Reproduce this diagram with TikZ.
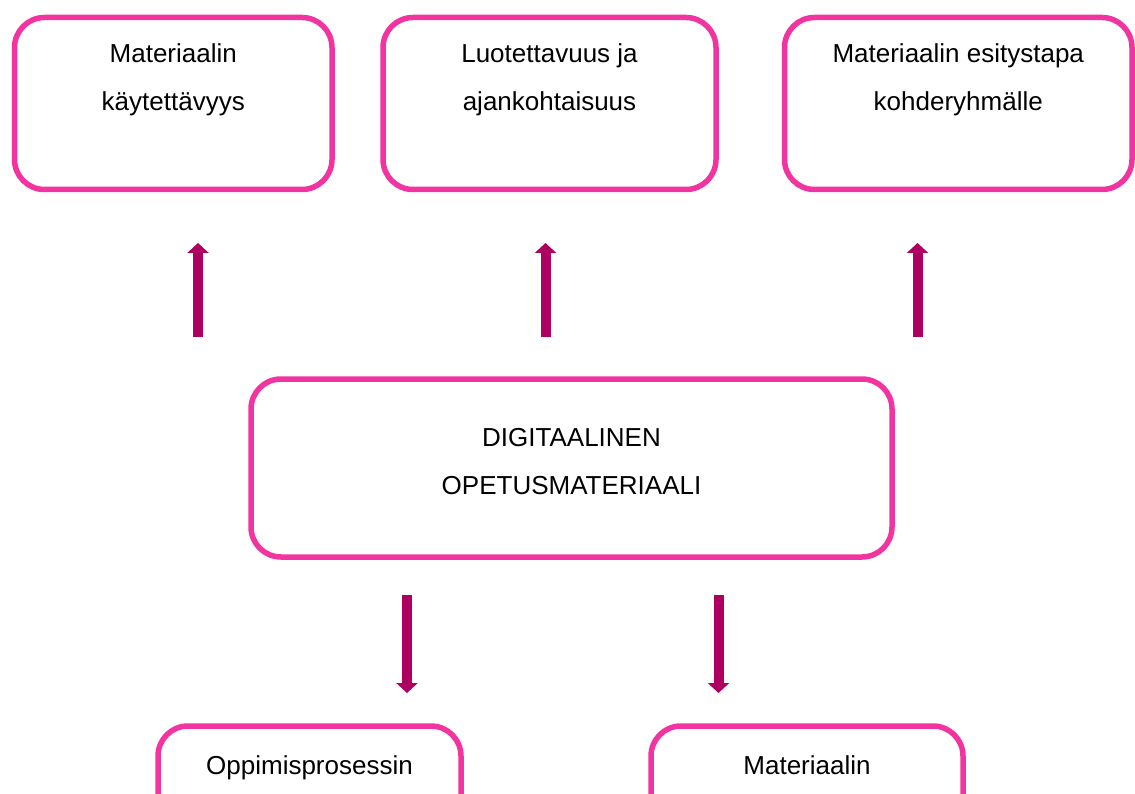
\documentclass[tikz,border=0pt]{standalone}
\usepackage{fontspec}
\setmainfont{Liberation Sans}
\usetikzlibrary{arrows.meta,positioning}
\definecolor{boxpink}{RGB}{242,52,160}
\definecolor{arrowplum}{RGB}{174,0,96}
\begin{document}
\begin{tikzpicture}[x=1pt,y=-1pt,
	box/.style={draw=boxpink,line width=5.5pt,rounded corners=30pt,inner sep=0pt,outer sep=0pt},
	txt/.style={inner sep=0pt,outer sep=0pt,align=center,font=\fontsize{26}{48}\selectfont},
	upar/.style={arrowplum,line width=10pt,-{Triangle[width=21pt,length=10pt]}}]
	\useasboundingbox (0,0) rectangle (1135,794);
	\clip (0,0) rectangle (1135,794);
	% boxes
	\node[box,minimum width=317.5pt,minimum height=172pt] (kaytto) at (173.25,103.5) {};
	\node[box,minimum width=333pt,minimum height=172pt] (luotet) at (549.5,103.5) {};
	\node[box,minimum width=347.5pt,minimum height=172pt] (esitys) at (958.25,103.5) {};
	\node[box,minimum width=641pt,minimum height=178pt] (digi) at (571.5,468) {};
	\node[box,minimum width=303pt,minimum height=172pt] (oppi) at (309.5,812) {};
	\node[box,minimum width=312pt,minimum height=172pt] (mater) at (807,812) {};
	% texts
	\node[txt,below=26pt of kaytto.north] (kayttoT) {Materiaalin\\käytettävyys};
	\node[txt,below=26pt of luotet.north] (luotetT) {Luotettavuus ja\\ajankohtaisuus};
	\node[txt,below=26pt of esitys.north] (esitysT) {Materiaalin esitystapa\\kohderyhmälle};
	\node[txt,below=49.5pt of digi.north] (digiT) {DIGITAALINEN\\OPETUSMATERIAALI};
	\node[txt,below=29.5pt of oppi.north] (oppiT) {Oppimisprosessin};
	\node[txt,below=29.5pt of mater.north] (materT) {Materiaalin};
	% arrows
	\coordinate (a1) at (198,337);   \coordinate (b1) at (198,243);
	\coordinate (a2) at (545.5,337); \coordinate (b2) at (545.5,243);
	\coordinate (a3) at (917.5,337); \coordinate (b3) at (917.5,243);
	\coordinate (c1) at (407,595);   \coordinate (d1) at (407,693);
	\coordinate (c2) at (718.5,595); \coordinate (d2) at (718.5,693);
	\draw[upar] (a1) -- (b1);
	\draw[upar] (a2) -- (b2);
	\draw[upar] (a3) -- (b3);
	\draw[upar] (c1) -- (d1);
	\draw[upar] (c2) -- (d2);
\end{tikzpicture}
\end{document}
